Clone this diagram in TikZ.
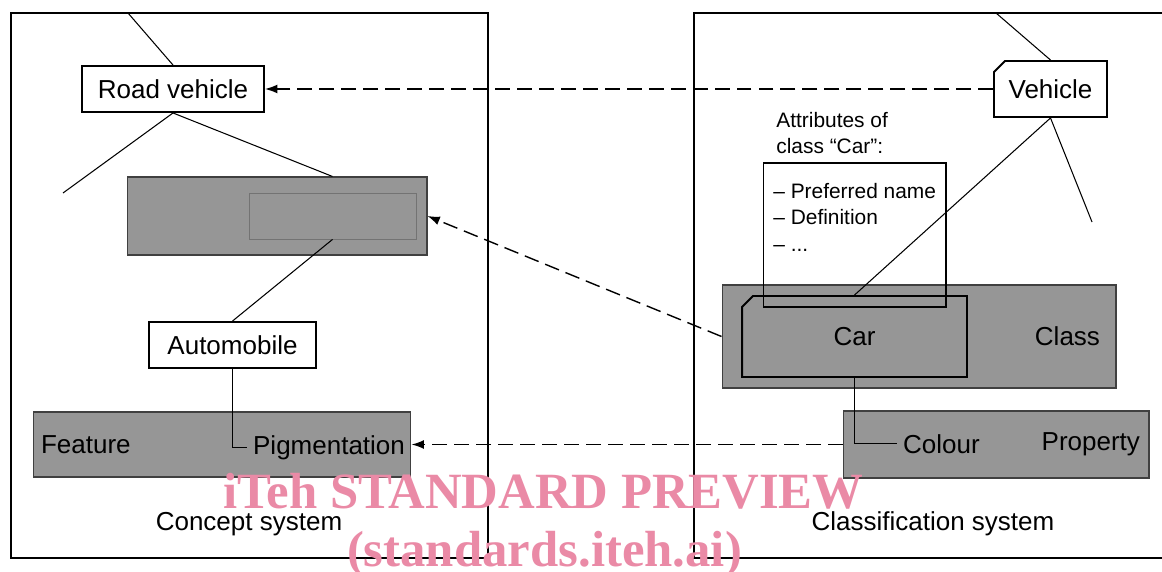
\documentclass[tikz,border=0pt]{standalone}
\usepackage{fontspec}
\setmainfont{Liberation Sans}
\newfontfamily\wmfont{Liberation Serif}
\usetikzlibrary{positioning,arrows.meta,shapes.misc}
\definecolor{boxgray}{RGB}{150,150,150}
\definecolor{wmpink}{RGB}{234,138,166}

\begin{document}
\begin{tikzpicture}[x=0.02cm, y=-0.02cm,
    every node/.style={font=\fontsize{14.8}{17}\selectfont, inner sep=0pt},
    term/.style={draw, line width=1.1pt, fill=white, minimum width=#1, minimum height=0.92cm},
    term/.default=3cm,
    grey box/.style={draw=black!75, line width=0.6pt, fill=boxgray},
    chamf/.style={chamfered rectangle, chamfered rectangle corners=north west,
        chamfered rectangle xsep=0.11cm, chamfered rectangle ysep=0.11cm, draw, line width=1.1pt},
    smalltext/.style={font=\fontsize{11.9}{15}\selectfont, align=left},
    link/.style={line width=0.6pt},
    ref/.style={line width=0.8pt, dash pattern=on 8.5pt off 4pt, -{Latex[length=7pt, width=5pt]}},
    frame/.style={line width=1.5pt},
    wm/.style={font=\wmfont\bfseries\fontsize{28.9}{30}\selectfont, text=wmpink, anchor=base}]
    \useasboundingbox (0,0) rectangle (1162,571);

    % the two systems
    \draw[frame] (11,13) rectangle (488,558);
    \draw[frame] (1162,13) -- (694,13) -- (694,558) -- (1162,558);

    % concept system
    \node[term=3.64cm] (roadveh) at (173,89) {Road vehicle};
    \node[grey box, minimum width=6cm, minimum height=1.56cm] (conbox) at (277,216) {};
    \node[draw=black!55, line width=0.5pt, minimum width=3.34cm, minimum height=0.92cm] (hidden) at (332.5,216) {};
    \node[term=3.34cm] (auto) at (232.5,345) {Automobile};
    \node[grey box, minimum width=7.56cm, minimum height=1.3cm, text width=7.24cm, align=left] (featbox) at (222,444.5) {Feature};
    \node[anchor=base west, inner xsep=3.3pt] (pigment) at (247,454) {Pigmentation};
    \node (consys) at (249,524) {Concept system};

    % classification system
    \node[grey box, minimum width=7.88cm, minimum height=2.06cm, text width=7.24cm, align=right] (classbox) at (919,336.5) {Class};
    \node[chamf, fill=boxgray, minimum width=4.5cm, minimum height=1.62cm] (car) at (854.5,336.5) {Car};
    \node[draw, line width=0.6pt, minimum width=3.66cm, minimum height=2.88cm] (attrbox) at (854.5,235) {};
    \node[smalltext, anchor=north west] (attrhead) at (776,112) {Attributes of\\class “Car”:};
    \node[smalltext, anchor=north west] (attrlist) at (773,183) {– Preferred name\\– Definition\\– ...};
    \node[chamf, fill=white, minimum width=2.26cm, minimum height=1.12cm] (vehicle) at (1050.5,89) {Vehicle};
    \node[grey box, minimum width=6.12cm, minimum height=1.34cm, text width=5.76cm, align=right] (propbox) at (996,444.5) {Property};
    \node[anchor=base west, inner xsep=3.3pt] (colour) at (897,453) {Colour};
    \node (clsys) at (933,524) {Classification system};

    % open ends of the hierarchies
    \coordinate (rvtop) at (128,13);
    \coordinate (rvleft) at (63,193);
    \coordinate (vehtop) at (996,13);
    \coordinate (vehright) at (1092,222);

    \foreach \u / \v in {roadveh.north/rvtop, roadveh.south/rvleft, hidden.south/auto.north,
        vehicle.north/vehtop, vehicle.south/vehright, vehicle.south/car.north}
        \draw[link] (\u) -- (\v);
    \draw[link] (roadveh.south) -- (hidden.north |- conbox.north);
    \draw[link] (auto.south) -- (auto.south |- pigment.west) -- (pigment.west);
    \draw[link] (car.south) -- (car.south |- colour.west) -- (colour.west);

    % correspondences
    \draw[ref] (vehicle.west) -- (roadveh.east);
    \draw[ref] (classbox.west) -- (conbox.east);
    \draw[ref] (propbox.west) -- (featbox.east);

    \node[wm] (wmtop) at (543.5,508) {iTeh STANDARD PREVIEW};
    \node[wm] (wmbot) at (544.5,566) {(standards.iteh.ai)};
\end{tikzpicture}
\end{document}
